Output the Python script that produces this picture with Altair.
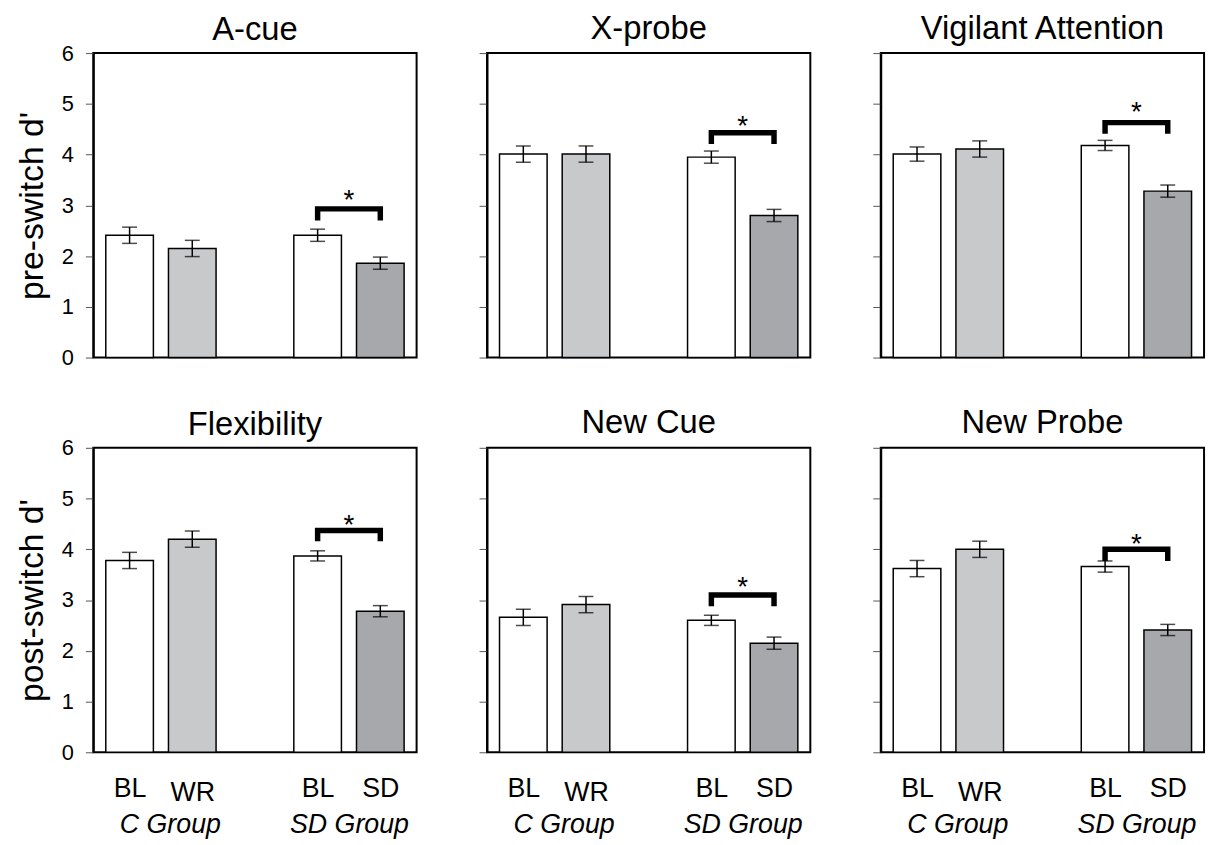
import altair as alt
import pandas as pd

# ---------------- data ----------------
panel_titles = ["A-cue", "X-probe", "Vigilant Attention",
                "Flexibility", "New Cue", "New Probe"]
row_titles = ["pre-switch d'", "post-switch d'"]

conditions = ["BL", "WR", "BL", "SD"]
groups = ["C Group", "C Group", "SD Group", "SD Group"]
group_names = ["C Group", "SD Group"]

means = {
    "A-cue":              [2.41, 2.15, 2.41, 1.86],
    "X-probe":            [4.01, 4.01, 3.95, 2.80],
    "Vigilant Attention": [4.01, 4.11, 4.18, 3.28],
    "Flexibility":        [3.78, 4.20, 3.87, 2.78],
    "New Cue":            [2.66, 2.91, 2.60, 2.15],
    "New Probe":          [3.62, 4.00, 3.66, 2.41],
}
errors = {
    "A-cue":              [0.16, 0.16, 0.12, 0.12],
    "X-probe":            [0.16, 0.16, 0.12, 0.12],
    "Vigilant Attention": [0.14, 0.16, 0.10, 0.12],
    "Flexibility":        [0.16, 0.16, 0.10, 0.11],
    "New Cue":            [0.16, 0.16, 0.10, 0.12],
    "New Probe":          [0.16, 0.16, 0.11, 0.11],
}
# significance bracket (SD group: BL vs SD)
bracket_top = [2.93, 4.43, 4.63, 4.37, 3.10, 4.00]
bracket_leg = [2.70, 4.21, 4.41, 4.16, 2.88, 3.77]
star_level = [3.20, 4.66, 4.93, 4.57, 3.36, 4.20]

y_ticks = [0, 1, 2, 3, 4, 5, 6]

# ---------------- helpers ----------------
# slot index of each bar: two bars per group with an empty slot between groups
slots = [group_names.index(g) * 3 + (i % 2) + 1 for i, g in enumerate(groups)]
group_slots = [(slots[2 * j] + slots[2 * j + 1]) / 2 for j in range(len(group_names))]

FONT = "Liberation Sans"
W, H = 326, 307

label_map = {s: c for s, c in zip(slots, conditions)}
label_map.update({gs: gn for gs, gn in zip(group_slots, group_names)})
label_expr = " : ".join(
    [f"datum.value == {k} ? '{v}'" for k, v in label_map.items()]) + " : ''"
group_test = " || ".join([f"datum.value == {gs}" for gs in group_slots])
wr_test = f"datum.value == {slots[conditions.index('WR')]}"
cgroup_test = f"datum.value == {group_slots[0]}"

fill_scale = alt.Scale(domain=["BL", "WR", "SD"],
                       range=["#ffffff", "#c8c9cb", "#a7a8ab"])


def panel(k):
    row, col = divmod(k, 3)
    name = panel_titles[k]
    df = pd.DataFrame({
        "slot": slots,
        "cond": conditions,
        "mean": means[name],
        "err": errors[name],
    })
    df["lo"] = df["mean"] - df["err"]
    df["hi"] = df["mean"] + df["err"]

    xscale = alt.Scale(domain=[0.5, 5.5], nice=False, zero=False)
    yscale = alt.Scale(domain=[0, 6], nice=False)

    if row == 1:
        xaxis = alt.Axis(
            values=sorted(label_map.keys()), labelExpr=label_expr,
            ticks=False, tickSize=0, domain=False, grid=False, title=None,
            labelOverlap=False, labelColor="black", labelBaseline="alphabetic",
            labelFontSize=27,
            labelPadding={"condition": [{"test": group_test, "value": 81},
                                        {"test": wr_test, "value": 49}],
                          "value": 45},
            labelOffset={"condition": {"test": cgroup_test, "value": 9},
                         "value": 0},
            labelFontStyle={"condition": {"test": group_test, "value": "italic"},
                            "value": "normal"},
        )
    else:
        xaxis = None

    if col == 0:
        yaxis = alt.Axis(values=y_ticks, title=row_titles[row], grid=False,
                         labelFontSize=22, labelPadding=12, titleFontSize=34,
                         titleFontWeight="normal", titlePadding=12,
                         tickSize=8, tickColor="#555555", labelColor="black",
                         titleColor="black", domainColor="black", domainWidth=2)
    else:
        yaxis = alt.Axis(values=y_ticks, title=None, labels=False, grid=False,
                         tickSize=8, tickColor="#555555",
                         domainColor="black", domainWidth=2)

    def X(field):
        return alt.X(f"{field}:Q", scale=xscale, axis=xaxis)

    def Y(field):
        return alt.Y(f"{field}:Q", scale=yscale, axis=yaxis)

    base = alt.Chart(df)
    bars = base.mark_bar(size=48, stroke="black", strokeWidth=1.5).encode(
        x=X("slot"), y=Y("mean"),
        fill=alt.Fill("cond:N", scale=fill_scale, legend=None),
    )
    whisk = base.mark_rule(color="black", strokeWidth=1.5).encode(
        x=X("slot"), y=Y("lo"), y2="hi:Q")
    cap_lo = base.mark_tick(orient="horizontal", size=15, thickness=1.5,
                            color="black").encode(x=X("slot"), y=Y("lo"))
    cap_hi = base.mark_tick(orient="horizontal", size=15, thickness=1.5,
                            color="black").encode(x=X("slot"), y=Y("hi"))

    bdf = pd.DataFrame({
        "slot": [slots[2], slots[2], slots[3], slots[3]],
        "yv": [bracket_leg[k], bracket_top[k], bracket_top[k], bracket_leg[k]],
        "ord": [0, 1, 2, 3],
    })
    bracket = alt.Chart(bdf).mark_line(
        color="black", strokeWidth=5.5, strokeJoin="miter", strokeCap="butt"
    ).encode(x=X("slot"), y=Y("yv"), order="ord:Q")

    sdf = pd.DataFrame({"slot": [group_slots[1]], "yv": [star_level[k]]})
    star = alt.Chart(sdf).mark_text(
        text="*", fontSize=28, color="black", baseline="middle", dy=6
    ).encode(x=X("slot"), y=Y("yv"))

    # the left panels' top tick label sticks out above the frame, which
    # shifts their title up; compensate so all titles line up
    title_offset = 7 if col > 0 else -5
    return alt.layer(bars, whisk, cap_lo, cap_hi, bracket, star).properties(
        width=W, height=H,
        title=alt.TitleParams(name, fontSize=33, fontWeight="normal",
                              offset=title_offset, color="black",
                              anchor="middle"),
    )


row0 = alt.hconcat(*[panel(k) for k in range(3)], spacing=60)
row1 = alt.hconcat(*[panel(k) for k in range(3, 6)], spacing=60)

chart = alt.vconcat(row0, row1, spacing=37).properties(
    padding={"left": 6, "top": 0, "right": 5, "bottom": 0}
).configure(font=FONT).configure_view(stroke="black", strokeWidth=2)

chart.save("out.html", embed_options={"renderer": "svg", "actions": False})
